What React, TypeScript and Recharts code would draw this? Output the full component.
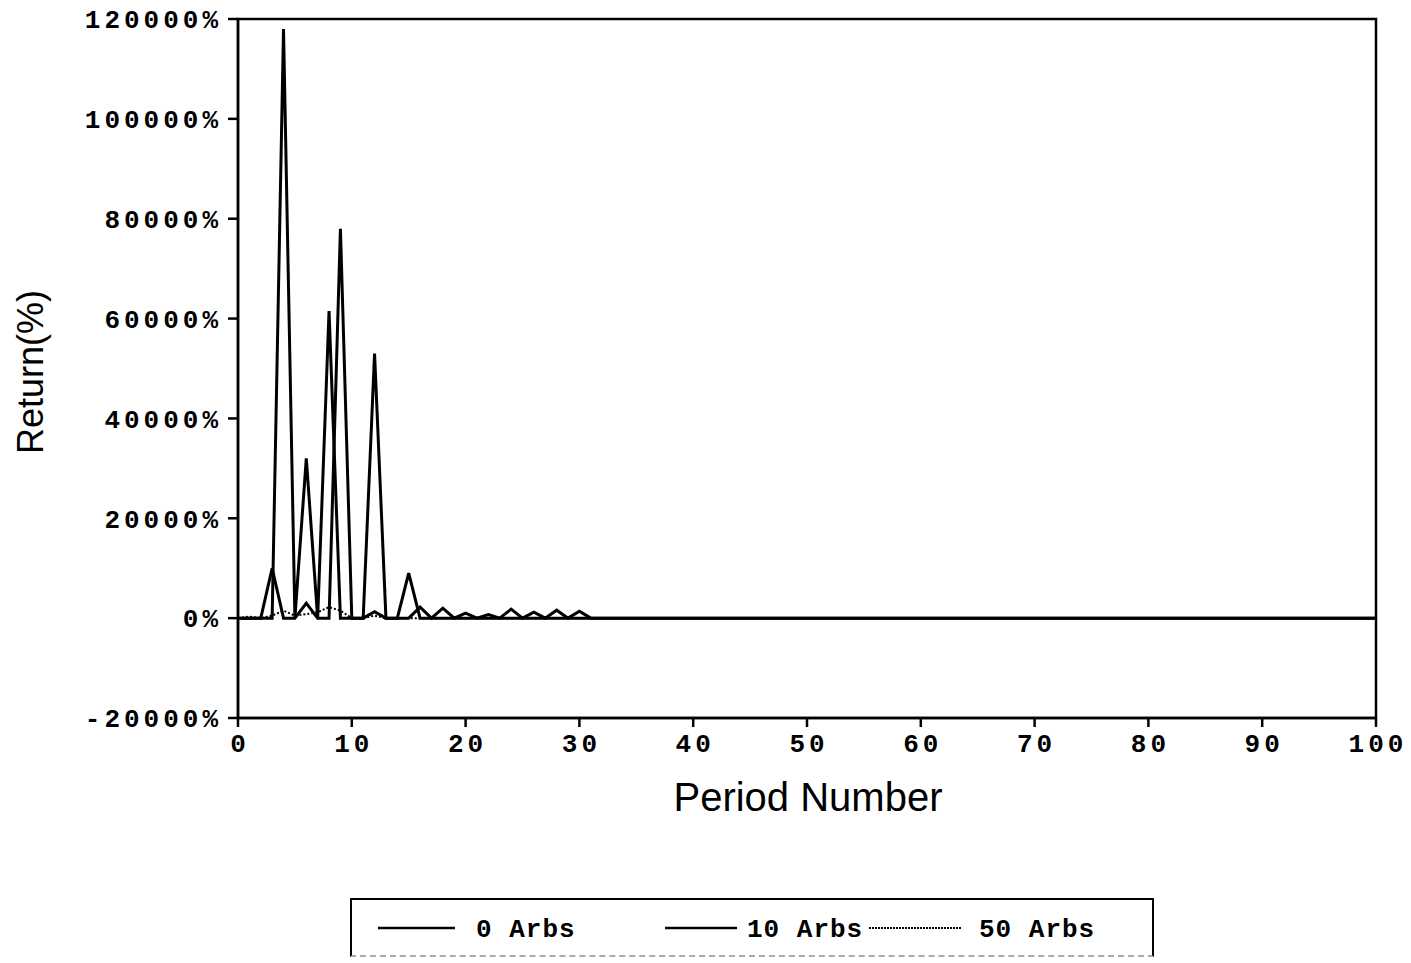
import React from 'react';
import { LineChart, Line, XAxis, YAxis, ReferenceArea } from 'recharts';

// period numbers 0..100
const periods = [
  0, 1, 2, 3, 4, 5, 6, 7, 8, 9,
  10, 11, 12, 13, 14, 15, 16, 17, 18, 19,
  20, 21, 22, 23, 24, 25, 26, 27, 28, 29,
  30, 31, 32, 33, 34, 35, 36, 37, 38, 39,
  40, 41, 42, 43, 44, 45, 46, 47, 48, 49,
  50, 51, 52, 53, 54, 55, 56, 57, 58, 59,
  60, 61, 62, 63, 64, 65, 66, 67, 68, 69,
  70, 71, 72, 73, 74, 75, 76, 77, 78, 79,
  80, 81, 82, 83, 84, 85, 86, 87, 88, 89,
  90, 91, 92, 93, 94, 95, 96, 97, 98, 99,
  100,
];

// return (%) per period
const arbs0 = [
  0, 0, 0, 0, 118000, 0, 32000, 0, 61500, 0,
  0, 0, 53000, 0, 0, 9000, 0, 0, 0, 0,
  0, 0, 0, 0, 0, 0, 0, 0, 0, 0,
  0, 0, 0, 0, 0, 0, 0, 0, 0, 0,
  0, 0, 0, 0, 0, 0, 0, 0, 0, 0,
  0, 0, 0, 0, 0, 0, 0, 0, 0, 0,
  0, 0, 0, 0, 0, 0, 0, 0, 0, 0,
  0, 0, 0, 0, 0, 0, 0, 0, 0, 0,
  0, 0, 0, 0, 0, 0, 0, 0, 0, 0,
  0, 0, 0, 0, 0, 0, 0, 0, 0, 0,
  0,
];

const arbs10 = [
  0, 0, 0, 10000, 0, 0, 3000, 0, 0, 78000,
  0, 0, 1300, 0, 0, 0, 2200, 0, 2000, 0,
  1000, 0, 700, 0, 1800, 0, 1200, 0, 1600, 0,
  1400, 0, 0, 0, 0, 0, 0, 0, 0, 0,
  0, 0, 0, 0, 0, 0, 0, 0, 0, 0,
  0, 0, 0, 0, 0, 0, 0, 0, 0, 0,
  0, 0, 0, 0, 0, 0, 0, 0, 0, 0,
  0, 0, 0, 0, 0, 0, 0, 0, 0, 0,
  0, 0, 0, 0, 0, 0, 0, 0, 0, 0,
  0, 0, 0, 0, 0, 0, 0, 0, 0, 0,
  0,
];

const arbs50 = [
  0, 300, 0, 500, 1500, 500, 800, 1200, 2200, 1500,
  0, 0, 500, 0, 0, 0, 0, 0, 0, 0,
  0, 0, 0, 0, 0, 0, 0, 0, 0, 0,
  0, 0, 0, 0, 0, 0, 0, 0, 0, 0,
  0, 0, 0, 0, 0, 0, 0, 0, 0, 0,
  0, 0, 0, 0, 0, 0, 0, 0, 0, 0,
  0, 0, 0, 0, 0, 0, 0, 0, 0, 0,
  0, 0, 0, 0, 0, 0, 0, 0, 0, 0,
  0, 0, 0, 0, 0, 0, 0, 0, 0, 0,
  0, 0, 0, 0, 0, 0, 0, 0, 0, 0,
  0,
];

const xTicks = [0, 10, 20, 30, 40, 50, 60, 70, 80, 90, 100];
const yTicks = [-20000, 0, 20000, 40000, 60000, 80000, 100000, 120000];

const data = periods.map((p, i) => ({
  period: p,
  arbs0: arbs0[i],
  arbs10: arbs10[i],
  arbs50: arbs50[i],
}));

const monoFamily = '"Liberation Mono", "DejaVu Sans Mono", monospace';

const tickFont = {
  fontFamily: monoFamily,
  fontWeight: 700,
  fontSize: 26,
  fill: '#000',
  letterSpacing: 4,
};

const legendFont: React.CSSProperties = {
  fontFamily: monoFamily,
  fontWeight: 700,
  fontSize: 26,
  fill: '#000',
  letterSpacing: 1,
};

const titleFont = '"Liberation Sans", Arial, sans-serif';

const Legend = () => (
  <div
    style={{
      position: 'absolute',
      left: 350,
      top: 898,
      width: 804,
      height: 59,
      borderTop: '2px solid #000',
      borderLeft: '2px solid #000',
      borderRight: '2px solid #000',
      borderBottom: '2px dashed #aaa',
      boxSizing: 'border-box',
    }}
  >
    <svg width={800} height={57} style={{ position: 'absolute', left: 0, top: 0 }}>
      <line x1={26} x2={103} y1={28} y2={28} stroke="#000" strokeWidth={2.5} />
      <text x={124} y={37} style={legendFont}>0 Arbs</text>
      <line x1={313} x2={385} y1={28} y2={28} stroke="#000" strokeWidth={2.5} />
      <text x={395} y={37} style={legendFont}>10 Arbs</text>
      <line x1={517} x2={609} y1={28} y2={28} stroke="#000" strokeWidth={2} strokeDasharray="2 1" />
      <text x={627} y={37} style={legendFont}>50 Arbs</text>
    </svg>
  </div>
);

export default function App() {
  return (
    <div style={{ position: 'absolute', left: 0, top: 0, width: 1411, height: 963, background: '#fff' }}>
      <LineChart
        width={1411}
        height={963}
        data={data}
        margin={{ top: 19, right: 35, left: 0, bottom: 200 }}
      >
        <XAxis
          dataKey="period"
          type="number"
          domain={[0, 100]}
          ticks={xTicks}
          interval={0}
          height={45}
          tick={{ ...tickFont, dx: 2 }}
          tickSize={9}
          tickMargin={7}
          axisLine={{ stroke: '#000', strokeWidth: 2.5 }}
          tickLine={{ stroke: '#000', strokeWidth: 2.5 }}
          label={{
            content: () => (
              <text x={808} y={811} textAnchor="middle" fontFamily={titleFont} fontSize={40} fill="#000">
                Period Number
              </text>
            ),
          }}
        />
        <YAxis
          type="number"
          domain={[-20000, 120000]}
          ticks={yTicks}
          interval={0}
          width={238}
          tick={tickFont}
          tickSize={10}
          tickMargin={6}
          tickFormatter={(v: number) => `${v}%`}
          axisLine={{ stroke: '#000', strokeWidth: 2.5 }}
          tickLine={{ stroke: '#000', strokeWidth: 2.5 }}
          label={{
            content: () => (
              <text
                x={43}
                y={372}
                transform="rotate(-90, 43, 372)"
                textAnchor="middle"
                fontFamily={titleFont}
                fontSize={36}
                fill="#000"
              >
                Return(%)
              </text>
            ),
          }}
        />
        <ReferenceArea x1={0} x2={100} y1={-20000} y2={120000} fill="none" stroke="#000" strokeWidth={2.5} />
        <Line type="linear" dataKey="arbs50" stroke="#000" strokeWidth={2} strokeDasharray="2 2" dot={false} isAnimationActive={false} />
        <Line type="linear" dataKey="arbs10" stroke="#000" strokeWidth={3} dot={false} isAnimationActive={false} />
        <Line type="linear" dataKey="arbs0" stroke="#000" strokeWidth={3} dot={false} isAnimationActive={false} />
      </LineChart>
      <Legend />
    </div>
  );
}
